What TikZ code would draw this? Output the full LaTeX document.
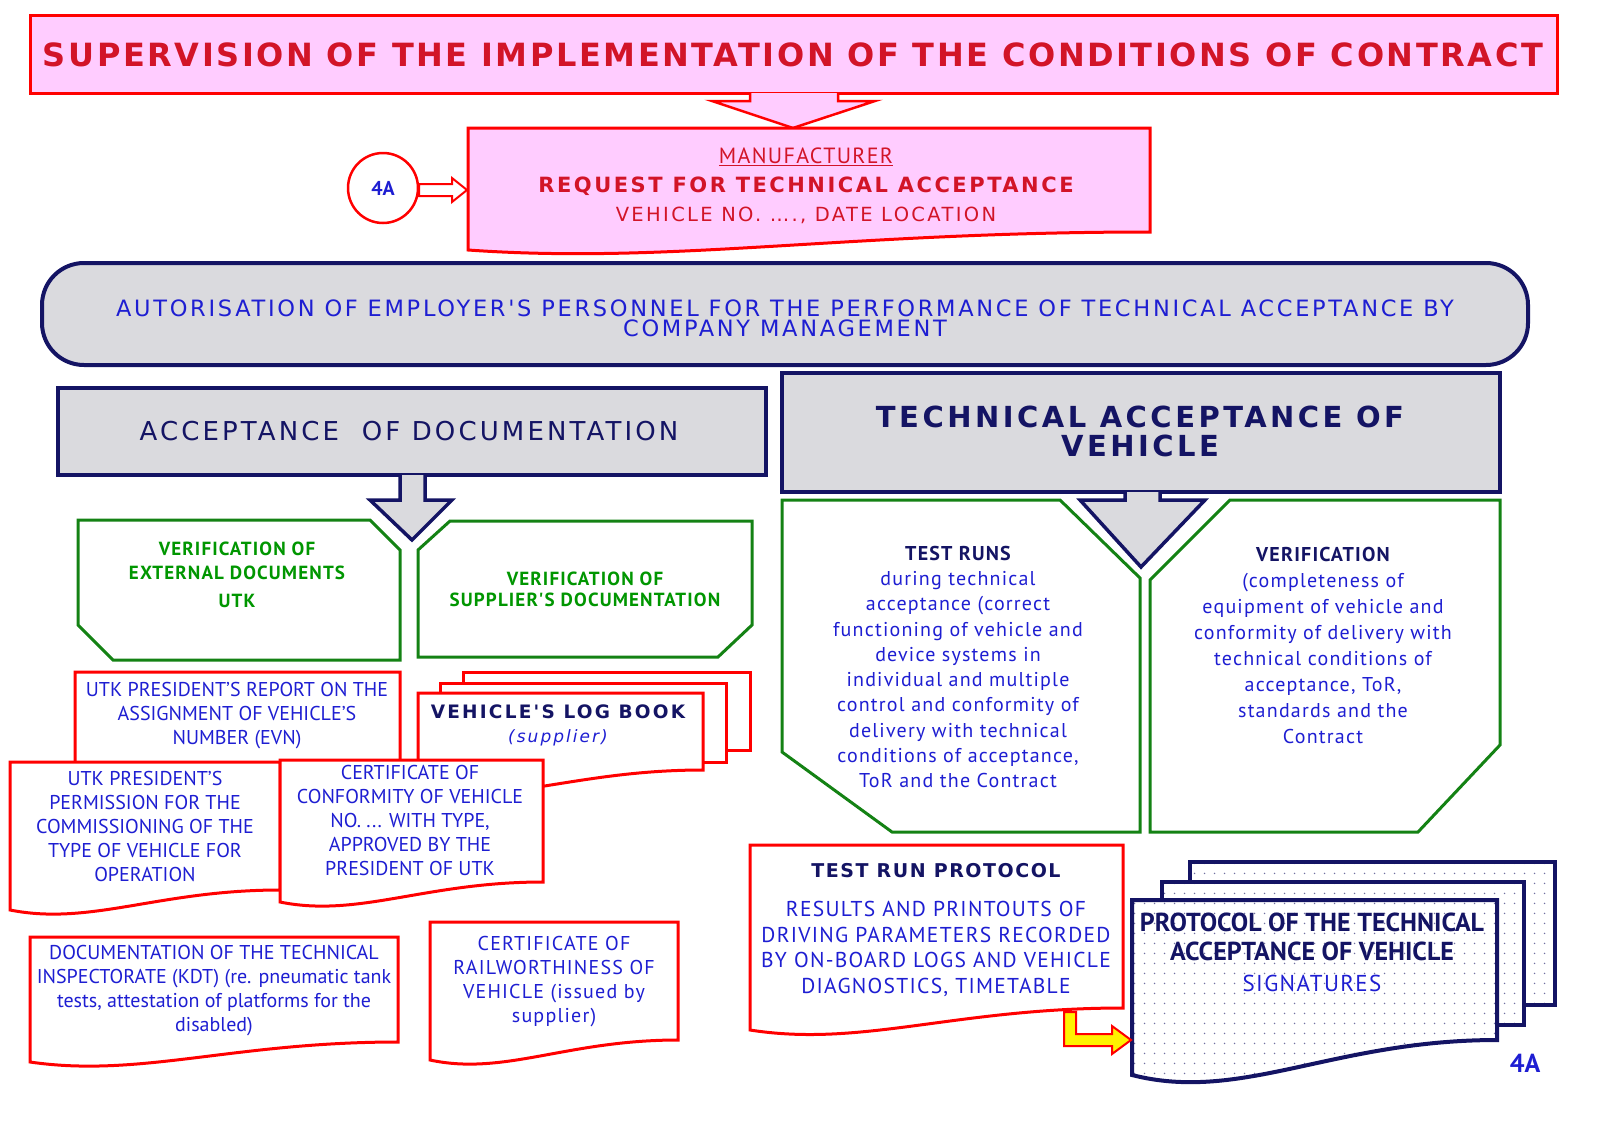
\documentclass[tikz,border=0pt]{standalone}
\usepackage{fontspec}
\setmainfont{PT Sans}
\newfontfamily\wideb{DejaVu Sans}[LetterSpace=8]
\newfontfamily\widen{DejaVu Sans}[LetterSpace=12]
\newfontfamily\pts{PT Sans}[LetterSpace=6]
\usetikzlibrary{patterns.meta}
\definecolor{tred}{RGB}{255,0,0}
\definecolor{rtext}{RGB}{210,20,40}
\definecolor{pinkf}{RGB}{255,204,255}
\definecolor{navy}{RGB}{20,20,100}
\definecolor{tblue}{RGB}{30,30,210}
\definecolor{gline}{RGB}{20,130,20}
\definecolor{gtext}{RGB}{0,150,0}
\definecolor{grayf}{RGB}{218,218,222}
\tikzdeclarepattern{name=mydots,type=uncolored,bounding box={(0pt,0pt) and (10pt,10pt)},tile size={(10pt,10pt)},code={\fill (5pt,5pt) circle (0.9pt);}}
\newcommand\docpath[5]{(#1,#2) -- (#3,#2) -- (#3,{#4-#5}) .. controls ({#3-0.45*(#3-#1)},{#4-#5}) and ({#1+0.3*(#3-#1)},{#4+0.8*#5}) .. (#1,#4) -- cycle}
\begin{document}
\begin{tikzpicture}[x=1pt,y=-1pt,
  redbox/.style={draw=tred,line width=3pt,fill=white,line join=miter},
  navybox/.style={draw=navy,line width=4pt,fill=grayf},
  greenbox/.style={draw=gline,line width=3pt,fill=white},
  body/.style={font=\fontsize{20}{24}\selectfont,text=tblue,align=center,inner sep=0},
  gtxt/.style={font=\fontsize{19}{24}\bfseries\pts,text=gtext,align=center,inner sep=0},
  dots/.style={draw=navy,line width=4pt,preaction={fill=white},pattern=mydots,pattern color=navy!60}]
\useasboundingbox (0,0) rectangle (1613,1127);
% title
\draw[draw=tred,line width=3pt,fill=pinkf] (30,15) rectangle (1557,93);
\node[font=\fontsize{32}{34}\bfseries\wideb,text=rtext] (title) at (793,55) {SUPERVISION OF THE IMPLEMENTATION OF THE CONDITIONS OF CONTRACT};
\draw[draw=tred,line width=2.5pt,fill=pinkf,line join=miter] (750,93) -- (750,101) -- (712,101) -- (793,128) -- (875,101) -- (838,101) -- (838,93);
% manufacturer
\draw[redbox,fill=pinkf] \docpath{468}{128}{1150}{250}{18};
\node[font=\fontsize{22}{24}\pts,text=rtext] (manu) at (806,157) {\underline{MANUFACTURER}};
\node[font=\fontsize{21}{24}\bfseries\widen,text=rtext] (req) at (806,186) {REQUEST FOR TECHNICAL ACCEPTANCE};
\node[font=\fontsize{19.5}{22}\widen,text=rtext] (veh) at (806,215) {VEHICLE NO. …., DATE LOCATION};
\node[draw=tred,line width=2.5pt,circle,minimum size=70pt,fill=white,text=tblue,font=\fontsize{20}{22}\bfseries\selectfont] (c4a) at (383,188) {4A};
\draw[draw=tred,line width=2pt,fill=white,line join=miter] (419,184) -- (452,184) -- (452,178) -- (467,190) -- (452,202) -- (452,196) -- (419,196) -- cycle;
% autorisation
\draw[navybox,rounded corners=42pt] (42,263) rectangle (1528,365);
\node[font=\fontsize{22.5}{22}\widen,text=tblue,align=center] (aut) at (785,318) {AUTORISATION OF EMPLOYER'S PERSONNEL FOR THE PERFORMANCE OF TECHNICAL ACCEPTANCE BY\\[-2pt] COMPANY MANAGEMENT};
% headers
\draw[navybox] (58,388) rectangle (766,475);
\node[font=\fontsize{26}{28}\widen,text=navy] (accdoc) at (409,431) {ACCEPTANCE\ \ OF DOCUMENTATION};
\draw[navybox] (782,373) rectangle (1500,492);
\node[font=\fontsize{29}{29}\bfseries\widen,text=navy,align=center] (tav) at (1140,431) {TECHNICAL ACCEPTANCE OF\\ VEHICLE};
% green boxes
\draw[greenbox] (78,520) -- (370,520) -- (400,550) -- (400,660) -- (113,660) -- (78,625) -- cycle;
\node[gtxt] (ext) at (237,575) {VERIFICATION OF\\EXTERNAL DOCUMENTS\\[4pt]UTK};
\draw[greenbox] (418,550) -- (450,521) -- (752,521) -- (752,625) -- (718,657) -- (418,657) -- cycle;
\node[gtxt,font=\fontsize{19}{21}\bfseries\pts] (sup) at (585,589) {VERIFICATION OF\\SUPPLIER'S DOCUMENTATION};
\draw[greenbox] (782,500) -- (1060,500) -- (1140,578) -- (1140,832) -- (892,832) -- (782,752) -- cycle;
\draw[greenbox] (1150,580) -- (1230,500) -- (1500,500) -- (1500,745) -- (1418,832) -- (1150,832) -- cycle;
\node[body,font=\fontsize{20}{25.3}\selectfont\pts] (tr) at (958,667) {\textbf{\textcolor{navy}{TEST RUNS}}\\during technical\\acceptance (correct\\functioning of vehicle and\\device systems in\\individual and multiple\\control and conformity of\\delivery with technical\\conditions of acceptance,\\ToR and the Contract};
\node[body,font=\fontsize{20}{26}\selectfont\pts] (ver) at (1323,645) {\textbf{\textcolor{navy}{VERIFICATION}}\\(completeness of\\equipment of vehicle and\\conformity of delivery with\\technical conditions of\\acceptance, ToR,\\standards and the\\Contract};
% down arrows
\draw[draw=navy,line width=3.5pt,fill=grayf,line join=miter] (400,475) -- (400,500) -- (370,500) -- (412,540) -- (452,500) -- (425,500) -- (425,475);
\draw[draw=navy,line width=3.5pt,fill=grayf,line join=miter] (1125,492) -- (1125,500) -- (1080,500) -- (1141,567) -- (1205,500) -- (1160,500) -- (1160,492);
% documents left
\draw[redbox] \docpath{75}{672}{400}{790}{15};
\node[body] (rep) at (237,716) {UTK PRESIDENT'S REPORT ON THE\\ASSIGNMENT OF VEHICLE'S\\NUMBER (EVN)};
\draw[redbox] (463,672) rectangle (750,750);
\draw[redbox] (440,683) rectangle (726,762);
\draw[redbox] \docpath{418}{693}{703}{790}{20};
\node[font=\fontsize{18.5}{22}\bfseries\widen,text=navy,align=center] (log) at (558,712) {VEHICLE'S LOG BOOK};
\node[font=\fontsize{17}{20}\itshape\widen,text=tblue] (logs) at (558,738) {(supplier)};
\draw[redbox] \docpath{10}{762}{280}{910}{20};
\node[body] (perm) at (145,826) {UTK PRESIDENT'S\\PERMISSION FOR THE\\COMMISSIONING OF THE\\TYPE OF VEHICLE FOR\\OPERATION};
\draw[redbox] \docpath{280}{760}{543}{902}{20};
\node[body] (conf) at (410,820) {CERTIFICATE OF\\CONFORMITY OF VEHICLE\\NO. ... WITH TYPE,\\APPROVED BY THE\\PRESIDENT OF UTK};
\draw[redbox] \docpath{30}{937}{398}{1062}{20};
\node[body,font=\fontsize{20}{24}\selectfont] (kdt) at (214,991) {DOCUMENTATION OF THE TECHNICAL\\INSPECTORATE (KDT) (re. pneumatic tank\\tests, attestation of platforms for the\\disabled)};
\draw[redbox] \docpath{430}{922}{678}{1060}{20};
\node[body,font=\fontsize{20}{24}\pts] (rail) at (554,982) {CERTIFICATE OF\\RAILWORTHINESS OF\\VEHICLE (issued by\\supplier)};
% test run protocol
\draw[redbox] \docpath{750}{845}{1123}{1030}{22};
\node[font=\fontsize{19}{22}\bfseries\wideb,text=navy] (trp) at (936,871) {TEST RUN PROTOCOL};
\node[body,font=\fontsize{21.5}{25.5}\pts] (res) at (936,949) {RESULTS AND PRINTOUTS OF\\DRIVING PARAMETERS RECORDED\\BY ON-BOARD LOGS AND VEHICLE\\DIAGNOSTICS, TIMETABLE};
% protocol stack
\draw[dots] (1190,862) rectangle (1555,1005);
\draw[dots] (1162,882) rectangle (1524,1025);
\draw[dots] \docpath{1132}{900}{1497}{1075}{35};
\node[font=\fontsize{26}{29}\bfseries\selectfont,text=navy,align=center] (ptav) at (1312,937) {PROTOCOL OF THE TECHNICAL\\ACCEPTANCE OF VEHICLE};
\node[font=\fontsize{23}{24}\pts,text=tblue] (sig) at (1312,983) {SIGNATURES};
% yellow arrow
\draw[draw=tred,line width=2pt,fill=yellow,line join=miter] (1064,1012) -- (1076,1012) -- (1076,1034) -- (1112,1034) -- (1112,1026) -- (1131,1040) -- (1112,1054) -- (1112,1046) -- (1064,1046) -- cycle;
\node[font=\fontsize{26}{28}\bfseries\selectfont,text=tblue] (fa) at (1525,1063) {4A};
\end{tikzpicture}
\end{document}
